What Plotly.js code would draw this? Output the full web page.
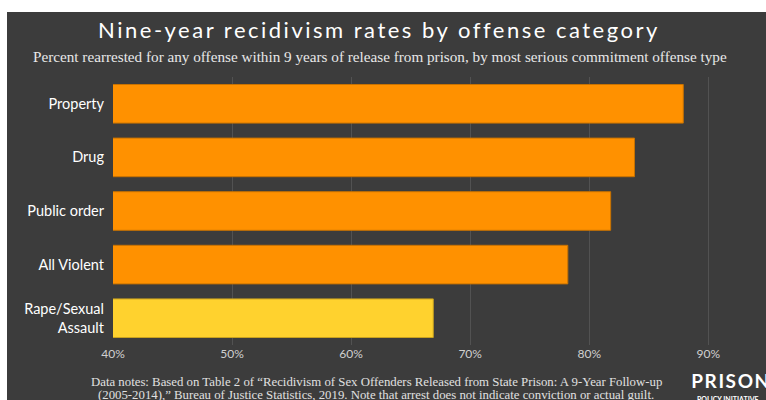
<!DOCTYPE html>
<html>
<head>
<meta charset="utf-8">
<script src="https://cdn.plot.ly/plotly-3.0.1.min.js"></script>
<style>
  html, body { margin: 0; padding: 0; background: #ffffff; width: 766px; height: 400px; overflow: hidden; }
  #chart { position: absolute; left: 7px; top: 12px; width: 759px; height: 388px; }
</style>
</head>
<body>
<div id="chart"></div>
<script>
const categories = ["Property", "Drug", "Public order", "All Violent", "Rape/Sexual<br>Assault"];
const rates = [87.9, 83.8, 81.8, 78.2, 66.9];
const barColors = ["#FF9100", "#FF9100", "#FF9100", "#FF9100", "#FFD22E"];
const barLines = ["#C87200", "#C87200", "#C87200", "#C87200", "#C9A21E"];
const tickValues = [40, 50, 60, 70, 80, 90];
const tickLabels = ["40%", "50%", "60%", "70%", "80%", "90%"];

const titleText = "Nine-year recidivism rates by offense category";
const subtitleText = "Percent rearrested for any offense within 9 years of release from prison, by most serious commitment offense type";
const noteLine1 = "Data notes: Based on Table 2 of “Recidivism of Sex Offenders Released from State Prison: A 9-Year Follow-up";
const noteLine2 = "(2005-2014),” Bureau of Justice Statistics, 2019. Note that arrest does not indicate conviction or actual guilt.";

const trace = {
  type: "bar",
  orientation: "h",
  x: rates,
  y: categories,
  marker: { color: barColors, line: { color: barLines, width: 1 } },
  hoverinfo: "x+y"
};

const serif = "Liberation Serif, DejaVu Serif, serif";
const sans = "Lato, Noto Sans, sans-serif";

const layout = {
  width: 759,
  height: 388,
  paper_bgcolor: "#3c3c3c",
  plot_bgcolor: "rgba(0,0,0,0)",
  margin: { l: 106, r: 22, t: 65, b: 55 },
  bargap: 0.28,
  showlegend: false,
  xaxis: {
    range: [40, 93],
    tickvals: tickValues,
    ticktext: tickLabels,
    showgrid: true,
    gridcolor: "#525252",
    gridwidth: 1,
    zeroline: false,
    showline: false,
    tickfont: { family: sans, size: 12, color: "#d0d0d0" },
    ticks: "",
    fixedrange: true
  },
  yaxis: {
    autorange: "reversed",
    showgrid: false,
    zeroline: false,
    showline: false,
    ticks: "",
    ticklabelstandoff: 8,
    tickfont: { family: sans, size: 14.5, color: "#ffffff" },
    fixedrange: true
  },
  annotations: [
    { text: titleText, xref: "paper", yref: "paper", x: 0.423, y: 1.179, xanchor: "center", yanchor: "middle",
      showarrow: false, font: { family: sans, size: 22, color: "#ffffff" } },
    { text: subtitleText, xref: "paper", yref: "paper", x: 0.4225, y: 1.078, xanchor: "center", yanchor: "middle",
      showarrow: false, font: { family: serif, size: 15.2, color: "#e8e8e8" } },
    { text: noteLine1, xref: "paper", yref: "paper", x: 0.417, y: -0.138, xanchor: "center", yanchor: "middle",
      showarrow: false, font: { family: serif, size: 12.8, color: "#e0e0e0" } },
    { text: noteLine2, xref: "paper", yref: "paper", x: 0.417, y: -0.187, xanchor: "center", yanchor: "middle",
      showarrow: false, font: { family: serif, size: 12.8, color: "#e0e0e0" } },
    { text: "<b>PRISON</b>", xref: "paper", yref: "paper", x: 0.92, y: -0.133, xanchor: "left", yanchor: "middle",
      showarrow: false, font: { family: sans, size: 19, color: "#ffffff" } },
    { text: "<b>POLICY INITIATIVE</b>", xref: "paper", yref: "paper", x: 0.922, y: -0.2, xanchor: "left", yanchor: "middle",
      showarrow: false, font: { family: sans, size: 7, color: "#ffffff" } }
  ]
};

Plotly.newPlot("chart", [trace], layout, { displayModeBar: false, staticPlot: true }).then(function () {
  const texts = document.querySelectorAll("#chart .annotation-text");
  if (texts[0]) texts[0].style.letterSpacing = "2.5px";
  if (texts[4]) texts[4].style.letterSpacing = "1.6px";
});
</script>
</body>
</html>
